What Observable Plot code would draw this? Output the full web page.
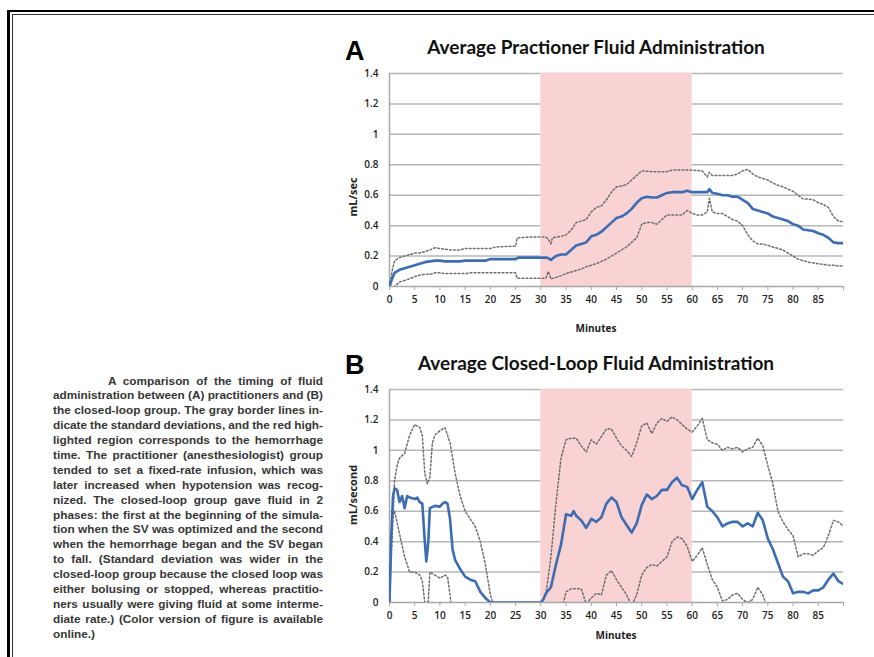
<!DOCTYPE html>
<html>
<head>
<meta charset="utf-8">
<script src="https://cdn.jsdelivr.net/npm/d3@7"></script>
<script src="https://cdn.jsdelivr.net/npm/@observablehq/plot@0.6"></script>
<style>
  html, body { margin: 0; padding: 0; background: #fff; }
  body { width: 874px; height: 657px; overflow: hidden; position: relative; }
  .abs { position: absolute; }
  .border-outer { left: 7px; top: 10px; width: 900px; height: 700px; border-left: 3px solid #000; border-top: 2.5px solid #000; }
  .border-inner { left: 12px; top: 13.5px; width: 900px; height: 700px; border-left: 1.5px solid #333; border-top: 1.5px solid #333; }
  .panel { font-family: Arial, "Liberation Sans", sans-serif; font-weight: bold; color: #000; font-size: 27px; line-height: 1; }
  .title { font-family: Lato, "Open Sans", sans-serif; font-weight: bold; font-size: 19px; color: #111; white-space: nowrap; transform: translate(-50%, -50%); }
  .xlab { font-family: "Open Sans", sans-serif; font-weight: bold; font-size: 10px; color: #222; transform: translate(-50%, -50%); white-space: nowrap; }
  .ylab { font-family: "Open Sans", sans-serif; font-weight: bold; font-size: 11px; color: #222; transform: translate(-50%, -50%) rotate(-90deg); white-space: nowrap; }
  .caption { left: 53px; top: 373.5px; width: 270px; font-family: "Liberation Sans", Arial, sans-serif; font-weight: bold; font-size: 11.8px; line-height: 14.9px; color: #363636; }
  .caption div { white-space: nowrap; height: 14.9px; }
  .caption span { white-space: nowrap; }
</style>
</head>
<body>
<div class="abs border-outer"></div>
<div class="abs border-inner"></div>

<div class="abs panel" style="left:345px; top:38px;">A</div>
<div class="abs title" style="left:596px; top:46px;">Average Practioner Fluid Administration</div>
<div class="abs ylab" style="left:352px; top:197px;">mL/sec</div>
<div class="abs xlab" style="left:596px; top:328px;">Minutes</div>
<div id="chartA" class="abs" style="left:340px; top:60px;"></div>

<div class="abs panel" style="left:345px; top:352px;">B</div>
<div class="abs title" style="left:596px; top:362px;">Average Closed-Loop Fluid Administration</div>
<div class="abs ylab" style="left:352px; top:495px;">mL/second</div>
<div class="abs xlab" style="left:616px; top:635px;">Minutes</div>
<div id="chartB" class="abs" style="left:340px; top:376px;"></div>

<div class="abs caption" id="caption"></div>

<script>
// ---- Data ----
const minuteTicks = [0, 5, 10, 15, 20, 25, 30, 35, 40, 45, 50, 55, 60, 65, 70, 75, 80, 85];
const rateTicks = [0, 0.2, 0.4, 0.6, 0.8, 1, 1.2, 1.4];
const hemorrhageWindow = [30, 60];

// Panel A: practitioners [minute, mL/sec]
const practMean = [[0,0],[0.5,0.05],[1,0.09],[2,0.11],[3,0.12],[4,0.13],[5,0.14],[6,0.15],[7,0.16],[8,0.165],[9,0.17],[10,0.17],[11,0.165],[12,0.165],[13,0.165],[14,0.165],[15,0.17],[17,0.17],[19,0.17],[20,0.18],[22,0.18],[25,0.18],[25.5,0.19],[28,0.19],[31,0.19],[31.5,0.185],[32,0.175],[33,0.2],[34,0.21],[35,0.21],[36,0.24],[37,0.27],[38,0.28],[39,0.29],[40,0.33],[41,0.34],[42,0.36],[43,0.39],[44,0.42],[45,0.45],[46,0.46],[47,0.48],[48,0.51],[49,0.55],[50,0.58],[51,0.59],[52,0.585],[53,0.585],[54,0.6],[55,0.615],[56,0.62],[57,0.62],[58,0.62],[59,0.63],[60,0.62],[61,0.62],[62,0.62],[63,0.62],[63.4,0.64],[64,0.615],[65,0.61],[66,0.6],[67,0.6],[68,0.59],[69,0.59],[70,0.57],[71,0.55],[72,0.51],[73,0.5],[74,0.49],[75,0.48],[76,0.46],[77,0.45],[78,0.44],[79,0.43],[80,0.41],[81,0.4],[82,0.375],[83,0.37],[84,0.365],[85,0.35],[86,0.34],[87,0.32],[88,0.29],[89,0.285],[90,0.285]];
const practUpper = [[0,0],[0.5,0.1],[1,0.17],[2,0.19],[3,0.2],[4,0.21],[5,0.22],[6,0.22],[7,0.23],[8,0.24],[9,0.255],[10,0.25],[11,0.245],[12,0.24],[14,0.24],[15,0.25],[20,0.25],[21,0.26],[25,0.265],[25.3,0.32],[28,0.325],[31,0.325],[31.5,0.31],[32,0.28],[32.3,0.32],[34,0.33],[35,0.34],[36,0.37],[37,0.42],[38,0.43],[39,0.44],[40,0.49],[41,0.52],[42,0.53],[43,0.57],[44,0.62],[45,0.655],[46,0.66],[47,0.67],[48,0.7],[49,0.73],[50,0.76],[52,0.755],[55,0.755],[56,0.765],[60,0.765],[62,0.76],[63,0.72],[63.4,0.75],[64,0.73],[68,0.73],[69,0.74],[70,0.76],[71,0.77],[72,0.74],[73,0.72],[74,0.71],[75,0.7],[76,0.68],[77,0.665],[78,0.655],[79,0.64],[80,0.625],[81,0.6],[82,0.575],[83,0.575],[84,0.57],[85,0.55],[86,0.54],[87,0.52],[88,0.46],[89,0.43],[90,0.425]];
const practLower = [[0,-0.05],[1,0],[2,0.03],[3,0.04],[4,0.05],[5,0.065],[6,0.075],[7,0.08],[8,0.08],[9,0.09],[10,0.09],[11,0.085],[15,0.085],[16,0.09],[25,0.09],[25.3,0.055],[31,0.055],[31.5,0.1],[32,0.05],[33,0.06],[34,0.07],[35,0.085],[36,0.095],[37,0.105],[38,0.115],[39,0.13],[40,0.14],[41,0.15],[42,0.165],[43,0.18],[44,0.2],[45,0.22],[46,0.24],[47,0.26],[48,0.29],[49,0.32],[50,0.41],[51,0.42],[52,0.42],[53,0.41],[54,0.44],[55,0.47],[58,0.47],[59,0.5],[60,0.48],[61,0.47],[62,0.47],[63,0.49],[63.4,0.58],[64,0.49],[65,0.48],[66,0.48],[67,0.46],[68,0.44],[69,0.43],[70,0.4],[71,0.34],[72,0.3],[73,0.28],[74,0.28],[75,0.27],[76,0.26],[77,0.25],[78,0.24],[79,0.22],[80,0.2],[81,0.18],[82,0.17],[83,0.16],[84,0.155],[85,0.15],[86,0.145],[87,0.14],[88,0.14],[89,0.135],[90,0.135]];

// Panel B: closed-loop [minute, mL/second]
const closedMean = [[0,0],[0.3,0.4],[0.7,0.7],[1,0.75],[1.5,0.74],[2,0.66],[2.5,0.7],[3,0.62],[3.5,0.7],[4,0.69],[5,0.68],[5.5,0.69],[6,0.66],[6.5,0.65],[7,0.4],[7.3,0.27],[7.7,0.4],[8,0.62],[9,0.635],[10,0.63],[10.5,0.65],[11,0.66],[11.5,0.65],[12,0.55],[12.5,0.35],[13,0.28],[14,0.22],[15,0.17],[16,0.15],[17,0.14],[18,0.07],[19,0.03],[20,0],[25,0],[30,0],[30.5,0.02],[31,0.06],[32,0.1],[33,0.25],[34,0.38],[35,0.58],[36,0.57],[36.5,0.6],[37,0.57],[38,0.54],[39,0.49],[40,0.55],[41,0.53],[42,0.56],[43,0.65],[44,0.69],[45,0.66],[46,0.56],[47,0.51],[48,0.46],[49,0.52],[50,0.64],[51,0.71],[52,0.68],[53,0.7],[54,0.74],[55,0.74],[56,0.79],[57,0.82],[58,0.77],[59,0.76],[60,0.68],[61,0.74],[62,0.79],[63,0.63],[64,0.6],[65,0.56],[66,0.5],[67,0.52],[68,0.53],[69,0.53],[70,0.5],[71,0.52],[72,0.5],[73,0.59],[74,0.54],[75,0.42],[76,0.35],[77,0.26],[78,0.17],[79,0.14],[80,0.06],[81,0.07],[82,0.07],[83,0.06],[84,0.08],[85,0.08],[86,0.1],[87,0.15],[88,0.19],[89,0.14],[90,0.12]];
const closedUpper = [[0,0],[0.5,0.4],[1,0.8],[1.5,0.9],[2,0.95],[3,0.98],[4,1.1],[5,1.17],[6,1.15],[6.5,1.1],[7,0.85],[7.5,0.78],[8,0.82],[8.5,1.05],[9,1.1],[10,1.13],[11,1.15],[12,1.05],[13,0.85],[14,0.7],[15,0.6],[16,0.55],[17,0.5],[18,0.4],[19,0.25],[20,0.05],[20.5,0],[30,0],[31,0.05],[32,0.3],[33,0.65],[34,0.95],[35,1.07],[36,1.08],[37,1.08],[38,1.03],[39,0.99],[40,1.07],[41,1.04],[42,1.09],[43,1.14],[44,1.14],[45,1.08],[46,1.03],[47,1],[48,0.96],[49,1.05],[50,1.16],[51,1.18],[52,1.11],[53,1.18],[54,1.21],[55,1.19],[56,1.22],[57,1.2],[58,1.17],[59,1.14],[60,1.12],[61,1.16],[62,1.21],[63,1.07],[64,1.05],[65,1.04],[66,1],[67,1.02],[68,1.01],[69,1.02],[70,0.99],[71,1.01],[72,1.02],[73,1.08],[74,1.03],[75,0.9],[76,0.78],[77,0.6],[78,0.53],[79,0.48],[80,0.44],[81,0.3],[82,0.32],[83,0.32],[84,0.31],[85,0.34],[86,0.36],[87,0.44],[88,0.54],[89,0.53],[90,0.5]];
const closedLower = [[0,0],[0.5,0.55],[1,0.6],[2,0.45],[3,0.3],[4,0.2],[5,0.2],[6,0.18],[6.5,0.14],[7,0],[7.5,-0.1],[8,0.2],[9,0.18],[10,0.16],[11,0.18],[11.5,0.17],[12,0.05],[12.5,-0.1],[14,-0.3],[20,-0.5],[30,-0.5],[33,-0.2],[34.5,0],[35,0.07],[36,0.09],[37,0.09],[38,0.09],[38.5,0.04],[39,-0.01],[40,0.03],[41,0.06],[42,0.05],[43,0.18],[44,0.21],[45,0.15],[46,0.1],[47,0.05],[48,-0.02],[49,0.05],[50,0.18],[51,0.23],[52,0.25],[53,0.24],[54,0.27],[55,0.3],[56,0.4],[57,0.43],[58,0.42],[59,0.37],[60,0.27],[61,0.31],[62,0.36],[63,0.25],[64,0.15],[65,0.1],[66,0.01],[67,0.02],[68,0.05],[69,0.06],[70,0.02],[71,0],[72,0.02],[73,0.1],[74,0.05],[75,-0.05],[77,-0.3],[90,-0.4]];

// Caption lines (as typeset in the reference)
const captionLines = [
  "A comparison of the timing of fluid",
  "administration between (A) practitioners and (B)",
  "the closed-loop group. The gray border lines in-",
  "dicate the standard deviations, and the red high-",
  "lighted region corresponds to the hemorrhage",
  "time. The practitioner (anesthesiologist) group",
  "tended to set a fixed-rate infusion, which was",
  "later increased when hypotension was recog-",
  "nized. The closed-loop group gave fluid in 2",
  "phases: the first at the beginning of the simula-",
  "tion when the SV was optimized and the second",
  "when the hemorrhage began and the SV began",
  "to fall. (Standard deviation was wider in the",
  "closed-loop group because the closed loop was",
  "either bolusing or stopped, whereas practitio-",
  "ners usually were giving fluid at some interme-",
  "diate rate.) (Color version of figure is available",
  "online.)"
];

// ---- Rendering ----
const GRID = "#b7b7b7";
const AXIS = "#a8a8a8";

function makeChart(mean, upper, lower) {
  const px = d => d[0], py = d => d[1];
  return Plot.plot({
    width: 520,
    height: 255,
    marginLeft: 49,
    marginRight: 17,
    marginTop: 13,
    marginBottom: 29,
    x: { domain: [0, 90], ticks: minuteTicks, tickSize: 0, tickPadding: 9, label: null, tickFormat: d => String(d) },
    y: { domain: [0, 1.4], ticks: rateTicks, tickSize: 0, tickPadding: 11, label: null, tickFormat: d => String(d) },
    style: { fontFamily: "'Open Sans', sans-serif", fontSize: "10px", fontWeight: "600", color: "#222", background: "transparent", overflow: "visible" },
    marks: [
      Plot.ruleY(rateTicks.filter(v => v > 0), { stroke: GRID, strokeWidth: 1.5 }),
      Plot.rect([hemorrhageWindow], { x1: d => d[0], x2: d => d[1], y1: 0, y2: 1.4, fill: "#f9d2d3" }),
      Plot.ruleX([0], { stroke: AXIS, strokeWidth: 1.5 }),
      Plot.ruleY([0], { stroke: AXIS, strokeWidth: 1.5 }),
      Plot.ruleX(minuteTicks.concat([90]), { y1: 0, y2: -0.027, stroke: AXIS, strokeWidth: 1 }),
      Plot.line(upper, { x: px, y: py, stroke: "#6f6f6f", strokeWidth: 1.5, strokeDasharray: "1.8,2.2", clip: true }),
      Plot.line(lower, { x: px, y: py, stroke: "#6f6f6f", strokeWidth: 1.5, strokeDasharray: "1.8,2.2", clip: true }),
      Plot.line(mean, { x: px, y: py, stroke: "#3c6db3", strokeWidth: 2.6, clip: true })
    ]
  });
}

document.getElementById("chartA").appendChild(makeChart(practMean, practUpper, practLower));
document.getElementById("chartB").appendChild(makeChart(closedMean, closedUpper, closedLower));

// Caption: each line justified to the column width by adjusting word spacing
const cap = document.getElementById("caption");
const COL = 270, INDENT = 55;
captionLines.forEach((t, i) => {
  const div = document.createElement("div");
  const span = document.createElement("span");
  span.textContent = t;
  div.appendChild(span);
  cap.appendChild(div);
  if (i === 0) div.style.paddingLeft = INDENT + "px";
  const last = i === captionLines.length - 1;
  const target = COL - (i === 0 ? INDENT : 0);
  const w = span.getBoundingClientRect().width;
  const spaces = (t.match(/ /g) || []).length;
  if (!last && spaces > 0) {
    span.style.wordSpacing = ((target - w) / spaces) + "px";
  } else if (w > target) {
    span.style.letterSpacing = ((target - w) / t.length) + "px";
  }
});
</script>
</body>
</html>
